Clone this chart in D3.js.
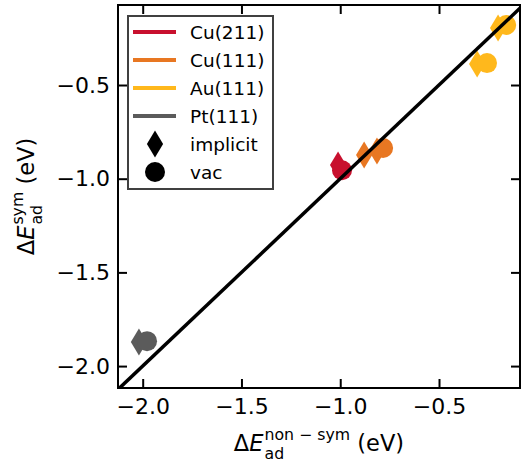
<!DOCTYPE html>
<html><head><meta charset="utf-8">
<script src="https://cdn.jsdelivr.net/npm/d3@7"></script>
<style>body{margin:0;background:#fff}svg{display:block}text{font-family:"DejaVu Sans",sans-serif}</style>
</head><body>
<svg id="c" width="522" height="462"></svg>
<script>
const materials = ["Cu(211)", "Cu(111)", "Au(111)", "Pt(111)"];
const colors = ["#c8102e", "#e87722", "#ffb81c", "#5b5b5b"];
const implicitMat = [0, 1, 1, 2, 2, 3];
const implicitX = [-1.011, -0.879, -0.814, -0.201, -0.307, -2.019];
const implicitY = [-0.927, -0.874, -0.852, -0.196, -0.388, -1.872];
const vacMat = [0, 1, 2, 2, 3];
const vacX = [-0.991, -0.783, -0.160, -0.257, -1.978];
const vacY = [-0.955, -0.836, -0.180, -0.383, -1.867];
const xTicks = [-2.0, -1.5, -1.0, -0.5];
const yTicks = [-2.0, -1.5, -1.0, -0.5];
const markerNames = ["implicit", "vac"];

const L = 118, R = 520, T = 5, B = 388;
const svg = d3.select("#c");
const x = d3.scaleLinear().domain([-2.125, -0.090]).range([L, R]);
const y = d3.scaleLinear().domain([-2.117, -0.073]).range([B, T]);
const fmt = d3.format(".1f");

svg.append("defs").append("clipPath").attr("id", "clip")
  .append("rect").attr("x", L).attr("y", T).attr("width", R - L).attr("height", B - T);

function diamondPath(cx, cy, h) {
  const w = h * 0.6;
  return `M${cx},${cy - h / 2}L${cx + w / 2},${cy}L${cx},${cy + h / 2}L${cx - w / 2},${cy}Z`;
}
const DH = 27, CR = 10;

const g = svg.append("g").attr("clip-path", "url(#clip)");
g.selectAll("path.imp").data(implicitX.map((v, i) => i)).enter().append("path")
  .attr("d", i => diamondPath(x(implicitX[i]), y(implicitY[i]), DH))
  .attr("fill", i => colors[implicitMat[i]]);
g.selectAll("circle.vac").data(vacX.map((v, i) => i)).enter().append("circle")
  .attr("cx", i => x(vacX[i])).attr("cy", i => y(vacY[i])).attr("r", CR)
  .attr("fill", i => colors[vacMat[i]]);

// y = x line
g.append("line")
  .attr("x1", x(-2.3)).attr("y1", y(-2.3)).attr("x2", x(0)).attr("y2", y(0))
  .attr("stroke", "#000").attr("stroke-width", 3.5);

// axes
const tickLen = 9;
const xb = svg.append("g").attr("transform", `translate(0,${B})`)
  .call(d3.axisBottom(x).tickValues(xTicks).tickFormat(fmt).tickSizeInner(-tickLen).tickSizeOuter(0).tickPadding(10));
const xt = svg.append("g").attr("transform", `translate(0,${T})`)
  .call(d3.axisTop(x).tickValues(xTicks).tickFormat("").tickSizeInner(-tickLen).tickSizeOuter(0));
const yl = svg.append("g").attr("transform", `translate(${L},0)`)
  .call(d3.axisLeft(y).tickValues(yTicks).tickFormat(fmt).tickSizeInner(-tickLen).tickSizeOuter(0).tickPadding(8));
const yr = svg.append("g").attr("transform", `translate(${R},0)`)
  .call(d3.axisRight(y).tickValues(yTicks).tickFormat("").tickSizeInner(-tickLen).tickSizeOuter(0));
[xb, xt, yl, yr].forEach(a => {
  a.select(".domain").remove();
  a.selectAll(".tick line").attr("stroke", "#000").attr("stroke-width", 2);
  a.selectAll(".tick text").attr("font-size", 22).attr("fill", "#000")
   .attr("font-family", '"DejaVu Sans", sans-serif');
});
svg.append("rect").attr("x", L).attr("y", T).attr("width", R - L).attr("height", B - T)
  .attr("fill", "none").attr("stroke", "#000").attr("stroke-width", 2);

// legend
const lg = svg.append("g");
lg.append("rect").attr("x", 128).attr("y", 16).attr("width", 145).attr("height", 173)
  .attr("fill", "#fff").attr("stroke", "#404040").attr("stroke-width", 2);
const rowY = i => 32 + i * 28;
materials.forEach((m, i) => {
  lg.append("line").attr("x1", 133).attr("x2", 176).attr("y1", rowY(i)).attr("y2", rowY(i))
    .attr("stroke", colors[i]).attr("stroke-width", 4);
  lg.append("text").attr("x", 190).attr("y", rowY(i)).attr("dy", "0.36em")
    .attr("font-size", 18.5).text(m);
});
lg.append("path").attr("d", diamondPath(155, rowY(4), DH)).attr("fill", "#000");
lg.append("circle").attr("cx", 155).attr("cy", rowY(5)).attr("r", CR).attr("fill", "#000");
markerNames.forEach((m, j) => {
  lg.append("text").attr("x", 190).attr("y", rowY(4 + j)).attr("dy", "0.36em")
    .attr("font-size", 18.5).text(m);
});

// axis labels with mathtext-like layout
function mathLabel(parent, sup, sub, tail, fs) {
  const grp = parent.append("g");
  let cx = 0;
  const t1 = grp.append("text").attr("x", cx).attr("y", 0).attr("font-size", fs).text("Δ");
  cx += t1.node().getComputedTextLength();
  const t2 = grp.append("text").attr("x", cx).attr("y", 0).attr("font-size", fs)
    .attr("font-style", "italic").text("E");
  cx += t2.node().getComputedTextLength() + 1;
  const sfs = fs * 0.7;
  const ts = grp.append("text").attr("x", cx).attr("y", -fs * 0.5).attr("font-size", sfs).text(sup);
  const tb = grp.append("text").attr("x", cx).attr("y", fs * 0.34).attr("font-size", sfs).text(sub);
  cx += Math.max(ts.node().getComputedTextLength(), tb.node().getComputedTextLength());
  const t3 = grp.append("text").attr("x", cx).attr("y", 0).attr("font-size", fs).text(tail);
  cx += t3.node().getComputedTextLength();
  return {grp, width: cx};
}
const xl = mathLabel(svg, "non − sym", "ad", "\u00a0(eV)", 22.5);
xl.grp.attr("transform", `translate(${(L + R) / 2 - xl.width / 2},451)`);
const ylab = mathLabel(svg, "sym", "ad", "\u00a0(eV)", 22.5);
ylab.grp.attr("transform", `translate(34,${(T + B) / 2 + ylab.width / 2}) rotate(-90)`);
</script>
</body></html>
